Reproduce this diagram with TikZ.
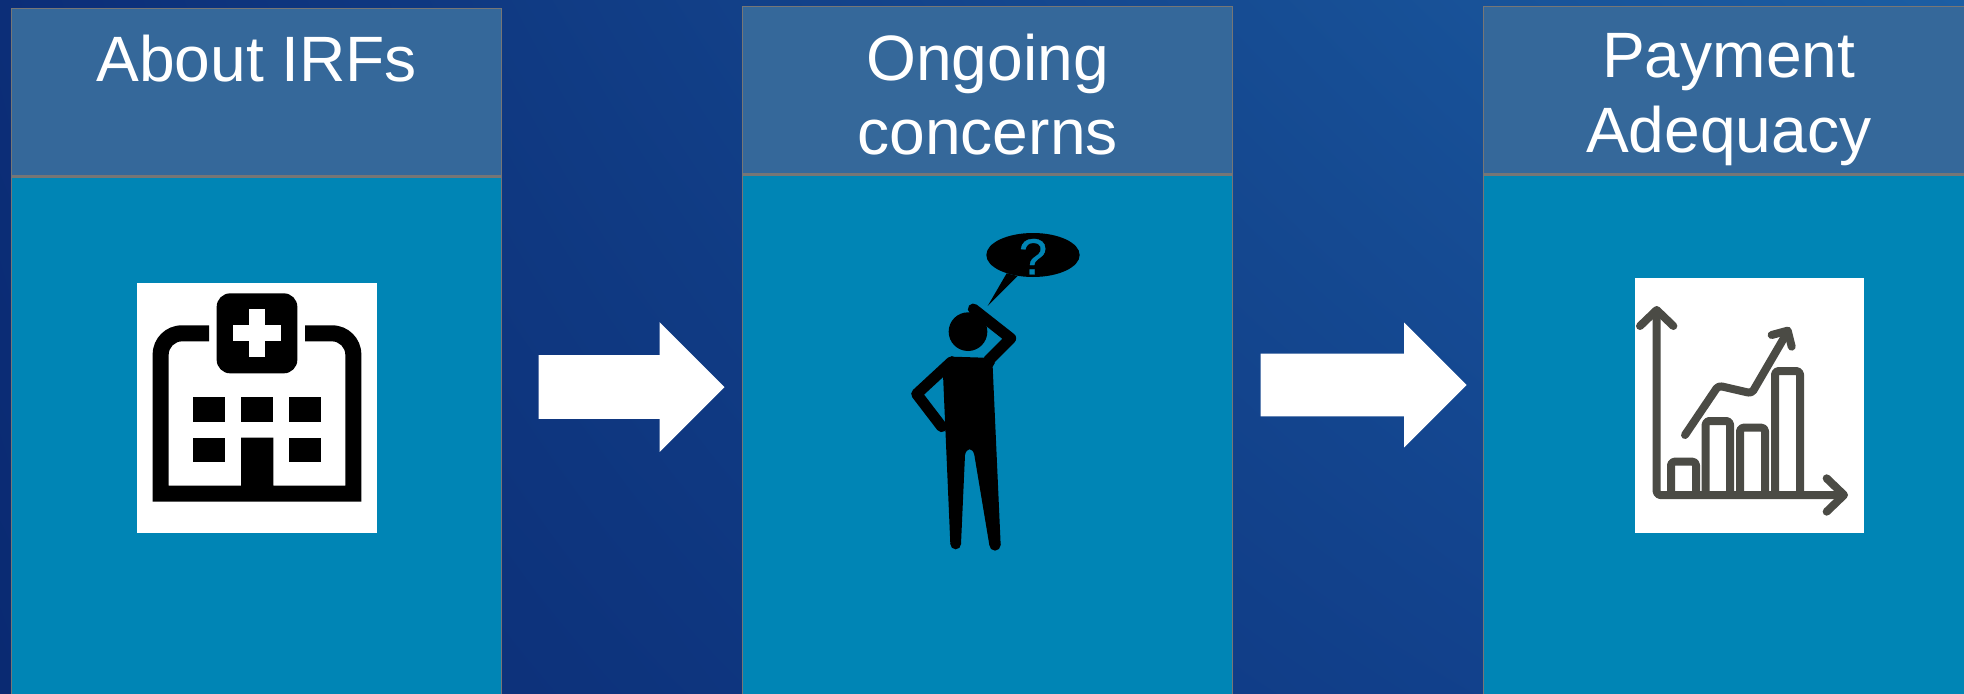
\documentclass[tikz,border=0pt]{standalone}
\usepackage{fontspec}
\setmainfont{Liberation Sans}
\newfontfamily\markfont[FakeBold=0.5]{Liberation Sans}
\usepackage{xcolor}
\usetikzlibrary{shapes.arrows, positioning, shadings}
\definecolor{headblue}{HTML}{35689A}
\definecolor{bodyblue}{HTML}{0085B5}
\definecolor{edgegray}{HTML}{767676}
\definecolor{chartgray}{HTML}{4B4B45}
\definecolor{backll}{HTML}{0A2A72}
\definecolor{backul}{HTML}{0C2E78}
\definecolor{backur}{HTML}{1C5EA3}
\definecolor{backlr}{HTML}{144894}

\begin{document}
\begin{tikzpicture}[
    x=0.02cm, y=-0.02cm,
    node distance=0cm,
    headbox/.style={draw=edgegray, fill=headblue, line width=0.8pt, minimum width=9.8cm, minimum height=3.34cm, inner sep=0pt},
    bodybox/.style={draw=edgegray, fill=bodyblue, line width=0.8pt, minimum width=9.8cm, minimum height=10.6cm, inner sep=0pt},
    headtext/.style={text=white, font=\fontsize{36.5}{42.2}\selectfont, align=center, inner sep=0pt, anchor=north},
    blockarr/.style={single arrow, fill=white, inner sep=0pt, text width=0pt, anchor=east},
    iconback/.style={fill=white, inner sep=0pt},
    chartline/.style={draw=chartgray, line width=0.16cm, line cap=round, line join=round, rounded corners=2pt},
    limb/.style={draw=black, line width=0.22cm, line cap=round, line join=round},
]
\useasboundingbox (0,0) rectangle (1964,693);
\clip (0,0) rectangle (1964,693);
\shade[shading=bilinear interpolation, lower left=backll, upper left=backul, upper right=backur, lower right=backlr] (0,0) rectangle (1964,693);

% Boxes
\node[headbox, anchor=north west] (head1) at (11,8) {};
\node[bodybox, below=0cm of head1] (body1) {};
\node[headbox, anchor=north west] (head2) at (742,6) {};
\node[bodybox, below=0cm of head2] (body2) {};
\node[headbox, anchor=north west] (head3) at (1483,6) {};
\node[bodybox, below=0cm of head3] (body3) {};

% Titles
\node[headtext, below=0.54cm of head1.north] (title1) {About IRFs};
\node[headtext, below=0.55cm of head2.north] (title2) {Ongoing\\concerns};
\node[headtext, below=0.55cm of head3.north] (title3) {Payment\\Adequacy};

% Arrows
\node[blockarr, text height=1.26cm, single arrow head extend=0.66cm, minimum height=3.72cm] (arr1) at (725,387) {};
\node[blockarr, text height=1.24cm, single arrow head extend=0.62cm, minimum height=4.12cm] (arr2) at (1467,385) {};

% Hospital
\node[iconback, anchor=north west, minimum width=4.8cm, minimum height=5cm] (hosp) at (137,283) {};
\begin{scope}[shift={(100,260)}, scale=1/3]
\fill[black] (327,196) [rounded corners=0.58cm] -- (158,196) [sharp corners] -- (158,725) -- (784,725) [rounded corners=0.58cm] -- (784,196) [sharp corners] -- (615,196) -- (615,244) [rounded corners=0.27cm] -- (736,244) [sharp corners] -- (736,677) -- (520,677) -- (520,533) -- (423,533) -- (423,677) -- (206,677) [rounded corners=0.27cm] -- (206,244) [sharp corners] -- (327,244) -- cycle;
\fill[black, rounded corners=0.27cm] (350,100) rectangle (592,340);
\fill[white] (447,148) rectangle (495,292);
\fill[white] (399,196) rectangle (543,244);
\foreach \wx in {278,423,567} \fill[black] (\wx,412) rectangle ++(97,73);
\foreach \wx in {278,567} \fill[black] (\wx,533) rectangle ++(97,72);
\end{scope}

% Person
\begin{scope}[shift={(880,210)}, scale=1/3]
\fill[black] (459,135) ellipse[x radius=140, y radius=66];
\fill[black] (380,190) -- (323,288) -- (413,198) -- cycle;
\node[text=bodyblue, font=\fontsize{29}{29}\markfont, inner sep=0pt] (mark) at (459,140) {?};
\fill[black] (264,365) circle[radius=58];
\draw[limb] (325,452) -- (392,385) -- (280,297);
\draw[limb] (215,455) -- (110,552) -- (185,650);
\fill[black] (215,440) -- (310,443) -- (345,458) -- (338,470) -- (362,1005) -- (328,1005) -- (283,735) .. controls (278,712) and (260,712) .. (255,735) -- (243,1002) -- (211,1002) -- (188,470) -- cycle;
\fill[black] (345,1005) circle[radius=17];
\fill[black] (227,1002) circle[radius=16];
\end{scope}

% Chart
\node[iconback, anchor=north west, minimum width=4.58cm, minimum height=5.1cm] (chart) at (1635,278) {};
\begin{scope}[shift={(1620,265)}, scale=1/3]
\draw[chartline] (110,140) -- (110,690) -- (665,690);
\draw[chartline, rounded corners=0pt] (60,183) -- (110,135) -- (160,183);
\draw[chartline, rounded corners=0pt] (620,640) -- (672,690) -- (620,740);
\draw[chartline] (153,685) -- (153,590) -- (228,590) -- (228,685);
\draw[chartline] (257,685) -- (257,468) -- (330,468) -- (330,685);
\draw[chartline] (360,685) -- (360,488) -- (435,488) -- (435,685);
\draw[chartline] (465,685) -- (465,318) -- (540,318) -- (540,685);
\draw[chartline] (195,510) -- (295,362) -- (395,385) -- (500,205);
\draw[chartline, rounded corners=0pt] (455,210) -- (503,197) -- (515,245);
\end{scope}
\end{tikzpicture}
\end{document}
